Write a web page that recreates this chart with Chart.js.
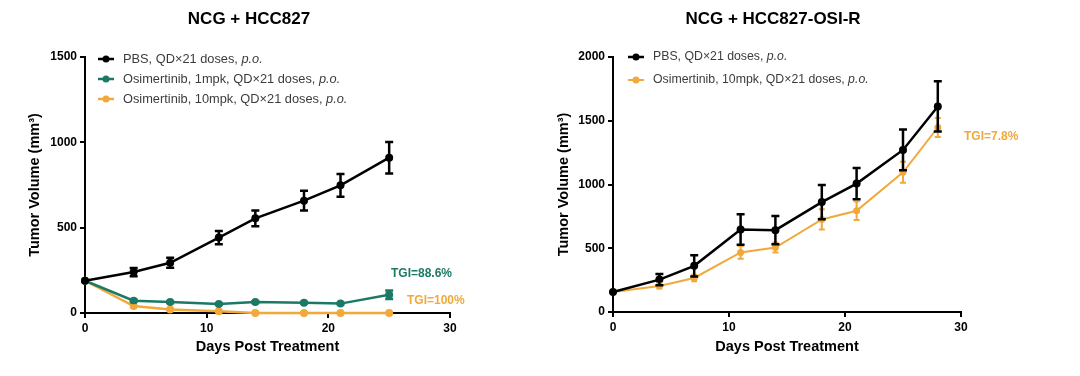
<!DOCTYPE html>
<html>
<head>
<meta charset="utf-8">
<script src="https://cdn.jsdelivr.net/npm/chart.js@4.4.1/dist/chart.umd.min.js"></script>
<style>
  body { margin: 0; background: #fff; }
  #wrap { display: flex; width: 1080px; height: 376px; }
  canvas { display: block; }
</style>
</head>
<body>
<div id="wrap">
  <canvas id="left" width="540" height="376"></canvas>
  <canvas id="right" width="540" height="376"></canvas>
</div>
<script>
// NCG + HCC827
const daysA = [0, 4, 7, 11, 14, 18, 21, 25];
const pbsA = [189, 240, 294, 442, 555, 658, 748, 910];
const pbsAErr = [0, 24, 29, 39, 46, 58, 67, 92];
const osi1A = [189, 72, 64, 53, 64, 60, 55, 107];
const osi1AErr = [0, 5, 5, 4, 5, 5, 4, 25];
const osi10A = [189, 41, 21, 10, 0, 0, 0, 0];
const osi10AErr = [0, 4, 3, 2, 0, 0, 0, 0];

// NCG + HCC827-OSI-R
const daysB = [0, 4, 7, 11, 14, 18, 21, 25, 28];
const pbsB = [157, 254, 362, 647, 642, 862, 1007, 1271, 1612];
const pbsBErr = [0, 45, 84, 120, 110, 134, 122, 160, 197];
const osi10B = [157, 204, 267, 467, 506, 726, 794, 1096, 1447];
const osi10BErr = [0, 20, 25, 50, 40, 79, 72, 82, 75];

const xTicks = [0, 10, 20, 30];
const yTicksA = [0, 500, 1000, 1500];
const yTicksB = [0, 500, 1000, 1500, 2000];

const namesA = ["PBS, QD\u00d721 doses, ", "Osimertinib, 1mpk, QD\u00d721 doses, ", "Osimertinib, 10mpk, QD\u00d721 doses, "];
const namesB = ["PBS, QD\u00d721 doses, ", "Osimertinib, 10mpk, QD\u00d721 doses, "];
const route = "p.o.";

const BLACK = "#000000";
const GREEN = "#1b7a66";
const ORANGE = "#f0a93a";
const FONT = '"Liberation Sans", Arial, Helvetica, sans-serif';

// error bars drawn through the chart's own scales
const errorBars = {
  id: "errorBars",
  afterDatasetsDraw(chart) {
    const ctx = chart.ctx;
    const y = chart.scales.y;
    ctx.save();
    for (let i = chart.data.datasets.length - 1; i >= 0; i--) {
      const ds = chart.data.datasets[i];
      if (!ds.errors) continue;
      const meta = chart.getDatasetMeta(i);
      ctx.strokeStyle = ds.borderColor;
      ctx.lineWidth = ds.errWidth;
      meta.data.forEach((pt, j) => {
        const e = ds.errors[j];
        if (!e) return;
        const v = ds.data[j].y;
        const top = y.getPixelForValue(v + e);
        const bot = y.getPixelForValue(v - e);
        const c = ds.capWidth;
        ctx.beginPath();
        ctx.moveTo(pt.x, top); ctx.lineTo(pt.x, bot);
        ctx.moveTo(pt.x - c, top); ctx.lineTo(pt.x + c, top);
        ctx.moveTo(pt.x - c, bot); ctx.lineTo(pt.x + c, bot);
        ctx.stroke();
      });
    }
    ctx.restore();
  }
};

// legend inside the plot, with italic route
const insetLegend = {
  id: "insetLegend",
  afterDraw(chart, args, opts) {
    const ctx = chart.ctx;
    ctx.save();
    ctx.textBaseline = "middle";
    chart.data.datasets.forEach((ds, i) => {
      const yy = opts.y + i * opts.gap;
      ctx.strokeStyle = ds.borderColor;
      ctx.lineWidth = ds.borderWidth;
      ctx.beginPath();
      ctx.moveTo(opts.x, yy); ctx.lineTo(opts.x + 16, yy);
      ctx.stroke();
      ctx.fillStyle = ds.borderColor;
      ctx.beginPath();
      ctx.arc(opts.x + 8, yy, 3.5, 0, Math.PI * 2);
      ctx.fill();
      ctx.fillStyle = "#3c3c3c";
      ctx.font = opts.size + "px " + FONT;
      ctx.fillText(ds.label, opts.x + 25, yy);
      const w = ctx.measureText(ds.label).width;
      ctx.font = "italic " + opts.size + "px " + FONT;
      ctx.fillText(route, opts.x + 25 + w, yy);
    });
    ctx.restore();
  }
};

// titles and TGI notes
const notes = {
  id: "notes",
  afterDraw(chart, args, opts) {
    const ctx = chart.ctx;
    ctx.save();
    ctx.textBaseline = "middle";
    opts.items.forEach(t => {
      ctx.font = t.font;
      ctx.fillStyle = t.color;
      ctx.textAlign = t.align || "left";
      ctx.fillText(t.text, t.x, t.y);
    });
    ctx.restore();
  }
};

function series(xs, ys) {
  return xs.map((x, i) => ({ x: x, y: ys[i] }));
}

function line(label, xs, ys, errs, color, width, radius, errWidth, cap) {
  return {
    label: label,
    data: series(xs, ys),
    errors: errs,
    borderColor: color,
    backgroundColor: color,
    borderWidth: width,
    pointRadius: radius,
    pointHoverRadius: radius,
    pointBorderWidth: 0,
    errWidth: errWidth,
    capWidth: cap,
    clip: false,
    tension: 0
  };
}

function makeChart(id, datasets, yMax, yTicks, box, legend, items) {
  return new Chart(document.getElementById(id), {
    type: "line",
    data: { datasets: datasets },
    plugins: [errorBars, insetLegend, notes],
    options: {
      responsive: false,
      animation: false,
      events: [],
      layout: { padding: { left: 0, top: box.top, right: box.right, bottom: 0 } },
      plugins: {
        legend: { display: false },
        tooltip: { enabled: false },
        insetLegend: legend,
        notes: { items: items }
      },
      scales: {
        x: {
          type: "linear",
          min: 0,
          max: 30,
          afterBuildTicks: s => { s.ticks = xTicks.map(v => ({ value: v })); },
          afterFit: s => { s.height = box.xHeight; },
          grid: { drawOnChartArea: false, drawTicks: true, tickLength: 5, lineWidth: 2, color: BLACK },
          border: { display: true, color: BLACK, width: 2 },
          ticks: { color: BLACK, padding: 3, callback: v => String(v), font: { family: FONT, size: 12, weight: "bold" } },
          title: {
            display: true,
            text: "Days Post Treatment",
            color: BLACK,
            padding: { top: 0, bottom: 20 },
            font: { family: FONT, size: 14.5, weight: "bold" }
          }
        },
        y: {
          min: 0,
          max: yMax,
          afterBuildTicks: s => { s.ticks = yTicks.map(v => ({ value: v })); },
          afterFit: s => { s.width = box.yWidth; },
          grid: { drawOnChartArea: false, drawTicks: true, tickLength: 5, lineWidth: 2, color: BLACK },
          border: { display: true, color: BLACK, width: 2 },
          ticks: { color: BLACK, padding: 3, callback: v => String(v), font: { family: FONT, size: 12, weight: "bold" } },
          title: {
            display: true,
            text: "Tumor Volume (mm\u00b3)",
            color: BLACK,
            padding: { top: box.yTitle, bottom: 0 },
            font: { family: FONT, size: 14.5, weight: "bold" }
          }
        }
      }
    }
  });
}

makeChart("left", [
  line(namesA[0], daysA, pbsA, pbsAErr, BLACK, 2.5, 4, 2.5, 4),
  line(namesA[1], daysA, osi1A, osi1AErr, GREEN, 2.5, 4, 2.5, 4),
  line(namesA[2], daysA, osi10A, osi10AErr, ORANGE, 2.5, 4, 2, 3)
], 1500, yTicksA,
  { top: 57, right: 90, xHeight: 63, yWidth: 85, yTitle: 26 },
  { x: 98, y: 59, gap: 20, size: 12.8 },
  [
    { text: "NCG + HCC827", x: 249, y: 19, font: "bold 17px " + FONT, color: BLACK, align: "center" },
    { text: "TGI=88.6%", x: 391, y: 274, font: "bold 12px " + FONT, color: GREEN },
    { text: "TGI=100%", x: 407, y: 301, font: "bold 12px " + FONT, color: ORANGE }
  ]);

makeChart("right", [
  line(namesB[0], daysB, pbsB, pbsBErr, BLACK, 2.5, 4, 2.5, 4),
  line(namesB[1], daysB, osi10B, osi10BErr, ORANGE, 2, 3.5, 2, 3)
], 2000, yTicksB,
  { top: 57, right: 119, xHeight: 64, yWidth: 73, yTitle: 15 },
  { x: 88, y: 57, gap: 23, size: 12.3 },
  [
    { text: "NCG + HCC827-OSI-R", x: 233, y: 19, font: "bold 17px " + FONT, color: BLACK, align: "center" },
    { text: "TGI=7.8%", x: 424, y: 137, font: "bold 12px " + FONT, color: ORANGE }
  ]);
</script>
</body>
</html>
